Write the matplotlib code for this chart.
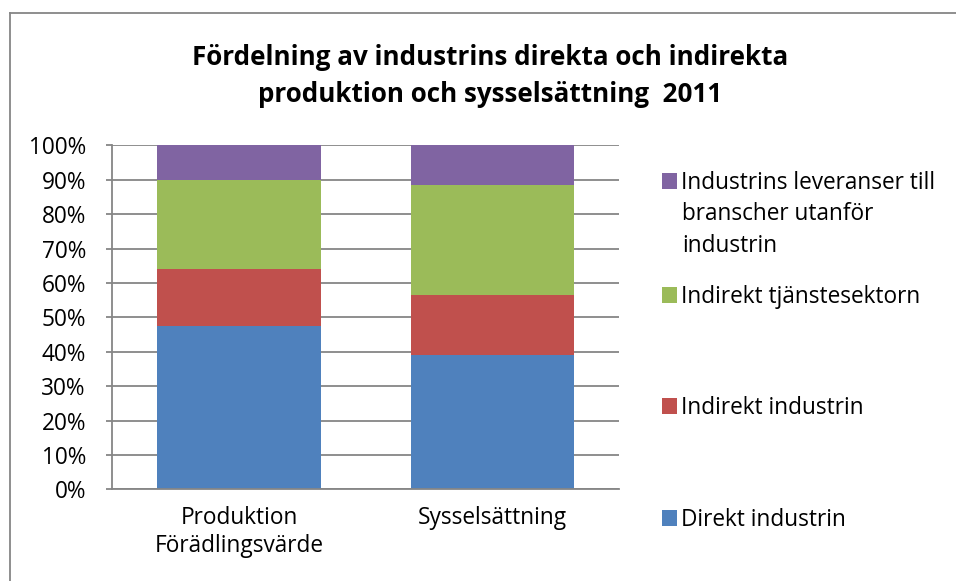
import matplotlib
matplotlib.use("Agg")
import matplotlib.pyplot as plt
from matplotlib.lines import Line2D
import numpy as np

plt.rcParams['font.family'] = ['Open Sans', 'DejaVu Sans']

categories = ["Produktion\nFörädlingsvärde", "Sysselsättning"]
series_names = ["Direkt industrin", "Indirekt industrin", "Indirekt tjänstesektorn",
                "Industrins leveranser till\nbranscher utanför\nindustrin"]
direkt = [47.5, 39.0]
indirekt_industri = [16.5, 17.6]
indirekt_tjanst = [26.0, 31.8]
leveranser = [10.0, 11.6]
series_values = [direkt, indirekt_industri, indirekt_tjanst, leveranser]
colors = ["#4F81BD", "#C0504D", "#9BBB59", "#8064A2"]
yticks = [0, 10, 20, 30, 40, 50, 60, 70, 80, 90, 100]
ytick_labels = [f"{v}%" for v in yticks]
title = "Fördelning av industrins direkta och indirekta\nproduktion och sysselsättning  2011"

W, H = 956, 581
FS = 16.3
fig = plt.figure(figsize=(W / 100, H / 100), dpi=100)

# outer chart frame (only left and top edges visible)
fig.add_artist(Line2D([10 / W, 10 / W], [0, 1 - 13 / H], transform=fig.transFigure,
                      color="#868686", linewidth=1.3))
fig.add_artist(Line2D([10 / W, 1], [1 - 13 / H, 1 - 13 / H], transform=fig.transFigure,
                      color="#868686", linewidth=1.3))

ax = fig.add_axes([112.3 / W, (H - 489.3) / H, (619 - 112.3) / W, 344 / H])
x = np.arange(len(categories))
bottom = np.zeros(len(categories))
containers = []
for name, vals, c in zip(series_names, series_values, colors):
    bc = ax.bar(x, vals, width=0.645, bottom=bottom, color=c, label=name, zorder=3, linewidth=0)
    containers.append(bc)
    bottom += np.array(vals)

ax.set_xlim(-0.5, len(categories) - 0.5)
ax.set_ylim(0, 100)
ax.set_yticks(yticks)
ax.set_yticklabels(ytick_labels, fontsize=FS)
ax.set_xticks(x)
ax.set_xticklabels(categories, fontsize=FS, linespacing=1.2)
ax.tick_params(axis='x', length=0, pad=12)
ax.tick_params(axis='y', length=4, width=1.3, color="#868686", pad=15, direction='out')
ax.yaxis.grid(True, color="#868686", linewidth=1.3, zorder=0)
ax.set_axisbelow(True)
for s in ["top", "right"]:
    ax.spines[s].set_visible(False)
for s in ["left", "bottom"]:
    ax.spines[s].set_color("#868686")
    ax.spines[s].set_linewidth(1.3)
ax.spines["bottom"].set_zorder(4)

fig.text(490 / W, 1 - 76 / H, title, ha="center", va="center", fontsize=18.7,
         fontweight="bold", linespacing=1.5)

# legend entries, placed individually like the Excel layout
legend_y = {3: 183, 2: 297, 1: 408, 0: 520}
for i, bc in enumerate(containers):
    lines = series_names[i].split("\n")
    fig.legend(handles=[bc], labels=[lines[0]], loc="center left",
               bbox_to_anchor=(662 / W, 1 - legend_y[i] / H), frameon=False,
               fontsize=FS, handlelength=0.66, handleheight=0.66, handletextpad=0.2,
               borderpad=0, borderaxespad=0)
    for k, extra in enumerate(lines[1:]):
        fig.text(682 / W, 1 - (legend_y[i] + 31.5 * (k + 1)) / H, extra, fontsize=FS,
                 ha="left", va="center")

fig.savefig("out.png", dpi=100)
